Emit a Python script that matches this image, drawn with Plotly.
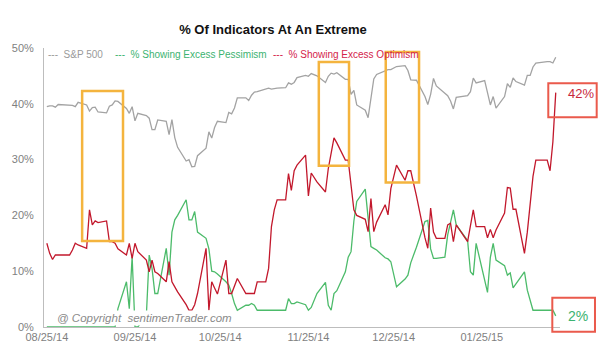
import pandas as pd
import plotly.graph_objects as go

# ---------------- data ----------------
holidays = ["2014-09-01", "2014-11-27", "2014-12-25", "2015-01-01", "2015-01-19", "2015-02-16"]
dates = [d for d in pd.bdate_range("2014-08-25", "2015-02-20") if d.strftime("%Y-%m-%d") not in holidays]

sp500 = [
    1998, 2000, 2000, 1997, 2003,
    2002, 2001, 1998, 2008,
    2002, 1988, 1996, 1997, 1986,
    1984, 1999, 2002, 2011, 2010,
    1994, 1983, 1998, 1966, 1983,
    1978, 1972, 1946, 1946, 1968,
    1965, 1935, 1969, 1928, 1906,
    1875, 1878, 1862, 1863, 1887,
    1904, 1941, 1927, 1951, 1965,
    1962, 1985, 1982, 1995, 2018,
    2018, 2012, 2024, 2031, 2032,
    2038, 2040, 2038, 2039, 2040,
    2041, 2052, 2049, 2053, 2064,
    2069, 2067, 2073, 2068,
    2053, 2067, 2074, 2072, 2075,
    2060, 2060, 2026, 2035, 2002,
    1990, 1973, 2013, 2061, 2071,
    2079, 2082, 2082, 2089,
    2091, 2080, 2059, 2058,
    2021, 2003, 2026, 2062, 2045,
    2028, 2023, 2011, 1993, 2019,
    2023, 2032, 2063, 2052,
    2057, 2030, 2002, 2021, 1995,
    2021, 2050, 2042, 2063, 2055,
    2047, 2069, 2069, 2088, 2097,
    2100, 2100, 2097, 2110,
]

pessimism = [
    0, 0, 0, 0, 0,
    0, 0, 0, 0,
    0, 0, 0, 0, 0,
    0, 0, 0, 0, 3.3,
    8.1, 3.3, 12.6, 0, 0,
    2, 12.9, 10.5, 6, 6,
    14.1, 9.3, 17, 19.2, 20,
    22.8, 19.2, 19.2, 20.7, 17,
    15.9, 14, 10, 9.9, 9.5,
    8.1, 7.5, 6, 4.2, 3,
    3.9, 3.9, 4.2, 3.9, 3,
    3, 3, 3, 3, 3,
    3, 5.1, 4.2, 4.2, 4.5,
    4, 3, 3.5, 6,
    8, 3.9, 3, 6, 6.5,
    9.9, 12.5, 13.5, 19, 22.5,
    24.7, 20, 14.4, 14.1, 13.8,
    12.4, 12.2, 11.7, 7.2,
    8.6, 9.3, 11.5, 14.3,
    18.9, 19.1, 14, 12.3, 12.3,
    12.5, 16.5, 18.5, 21, 18.3,
    15.5, 9.9, 9.3, 15,
    8.5, 6.2, 12.5, 15, 12,
    11, 9.3, 9.7, 7, 7.7,
    9.9, 6.6, 5, 3, 3,
    3, 3, 3, 2,
]

optimism = [
    15, 13.2, 12.1, 12.9, 12.9,
    12.9, 13.8, 15, 14.7,
    14.1, 21, 18.3, 19, 18.7,
    19, 15.3, 15.3, 15, 14,
    12.9, 15, 12.3, 15, 13.5,
    12, 9.9, 12, 9.9, 9.6,
    8.1, 11.7, 8.1, 7.2, 6.3,
    4, 3, 3, 4, 6,
    14.1, 3, 8.1, 7, 5.9,
    12, 6, 6, 7.5, 8.7,
    6, 6, 6, 6, 8.1,
    8.1, 10.5, 18, 21, 22.8,
    22.8, 27.5, 24.5, 28, 29,
    30.8, 23.5, 27.6, 26,
    24.2, 28.4, 31, 33.9, 33,
    29.9, 29.9, 25, 21, 20,
    19.3, 17.1, 23, 17.1, 18.8,
    21.9, 20.1, 24.8, 29,
    26.3, 28, 28, 23.5,
    16, 14.1, 21.3, 17, 15.9,
    15.9, 18.3, 18.6, 15.3, 18.3,
    15.3, 18, 21, 18,
    18, 16, 17.5, 16, 17.4,
    20.4, 25, 24.9, 21.1, 21.1,
    13.2, 17, 21.5, 27, 29.9,
    29.9, 28, 33.2, 42,
]

tick_dates = ["2014-08-25", "2014-09-25", "2014-10-25", "2014-11-25", "2014-12-25", "2015-01-25"]
y_ticks = [0, 10, 20, 30, 40, 50]
y_ticktext = ["0%", "10%", "20%", "30%", "40%", "50%"]

# highlighted periods: (start, end, low %, high %)
highlights = [
    ("2014-09-06 10:00", "2014-09-20 19:00", 15.4, 42.3),
    ("2014-11-28 16:00", "2014-12-09 07:00", 28.9, 47.5),
    ("2014-12-22 05:00", "2015-01-02 22:00", 25.9, 49.3),
]

GRAY = "#a3a3a3"
GREEN = "#4cbb6a"
RED = "#c2182c"
ORANGE = "#f4b43e"
BOXRED = "#ea5a4c"
FONT = "Liberation Sans, Arial, sans-serif"

fig = go.Figure()
fig.add_trace(go.Scatter(x=dates, y=sp500, name="S&P 500", mode="lines",
                         line=dict(color=GRAY, width=1.3), yaxis="y2"))
fig.add_trace(go.Scatter(x=dates, y=pessimism, name="% Showing Excess Pessimism", mode="lines",
                         line=dict(color=GREEN, width=1.3)))
fig.add_trace(go.Scatter(x=dates, y=optimism, name="% Showing Excess Optimism", mode="lines",
                         line=dict(color=RED, width=1.3)))

shapes = []
for x0, x1, y0, y1 in highlights:
    shapes.append(dict(type="rect", xref="x", yref="y", x0=x0, x1=x1, y0=y0, y1=y1,
                       line=dict(color=ORANGE, width=2.5), layer="above"))
# call-out boxes for the latest values
shapes.append(dict(type="rect", xref="paper", yref="paper", x0=0.9773, x1=1.0711, y0=0.7516, y1=0.8735,
                   line=dict(color=BOXRED, width=2)))
shapes.append(dict(type="rect", xref="paper", yref="paper", x0=0.9851, x1=1.0678, y0=-0.0168, y1=0.105,
                   line=dict(color=BOXRED, width=2)))

annotations = [
    dict(text="---  S&P 500", x=0.004, y=0.975, xref="paper", yref="paper", xanchor="left", yanchor="middle",
         showarrow=False, font=dict(size=10, color="#9a9a9a", family=FONT)),
    dict(text="---  % Showing Excess Pessimism", x=0.134, y=0.975, xref="paper", yref="paper", xanchor="left",
         yanchor="middle", showarrow=False, font=dict(size=10, color="#3cb371", family=FONT)),
    dict(text="---  % Showing Excess Optimism", x=0.44, y=0.975, xref="paper", yref="paper", xanchor="left",
         yanchor="middle", showarrow=False, font=dict(size=10, color="#d4234a", family=FONT)),
    dict(text="42%", x=1.0407, y=0.8376, xref="paper", yref="paper", xanchor="center", yanchor="middle",
         showarrow=False, font=dict(size=13, color="#c8283c", family=FONT)),
    dict(text="2%", x=1.0343, y=0.0394, xref="paper", yref="paper", xanchor="center", yanchor="middle",
         showarrow=False, font=dict(size=14, color="#3cb371", family=FONT)),
    dict(text="<i>@ Copyright&nbsp;&nbsp;sentimenTrader.com</i>", x=0.021, y=0.032, xref="paper", yref="paper",
         xanchor="left", yanchor="middle", showarrow=False, bgcolor="white",
         font=dict(size=11.5, color="#8a8a8a", family=FONT)),
]

fig.update_layout(
    width=600, height=351,
    margin=dict(l=44, r=40, t=48, b=24, autoexpand=False),
    paper_bgcolor="white", plot_bgcolor="white",
    showlegend=False,
    title=dict(text="<b>% Of Indicators At An Extreme</b>", x=0.455, xref="container", xanchor="center",
               y=1 - 29 / 351, yref="container", yanchor="middle",
               font=dict(size=13, color="#111111", family=FONT)),
    xaxis=dict(type="date", range=["2014-08-24", "2015-02-21 12:00"],
               tickvals=tick_dates, tickformat="%m/%d/%y", automargin=False,
               showgrid=False, zeroline=False, showline=True, linecolor="#bdbdbd", linewidth=1,
               ticks="", tickfont=dict(size=11, color="#7f7f7f", family=FONT)),
    yaxis=dict(range=[0, 50], tickvals=y_ticks, ticktext=y_ticktext, automargin=False,
               ticklabelstandoff=7,
               showgrid=False, zeroline=False, showline=True, linecolor="#bdbdbd", linewidth=1,
               ticks="", tickfont=dict(size=11, color="#7f7f7f", family=FONT)),
    yaxis2=dict(overlaying="y", range=[1499, 2131], visible=False),
    shapes=shapes,
    annotations=annotations,
)

fig.write_html("out.html")
